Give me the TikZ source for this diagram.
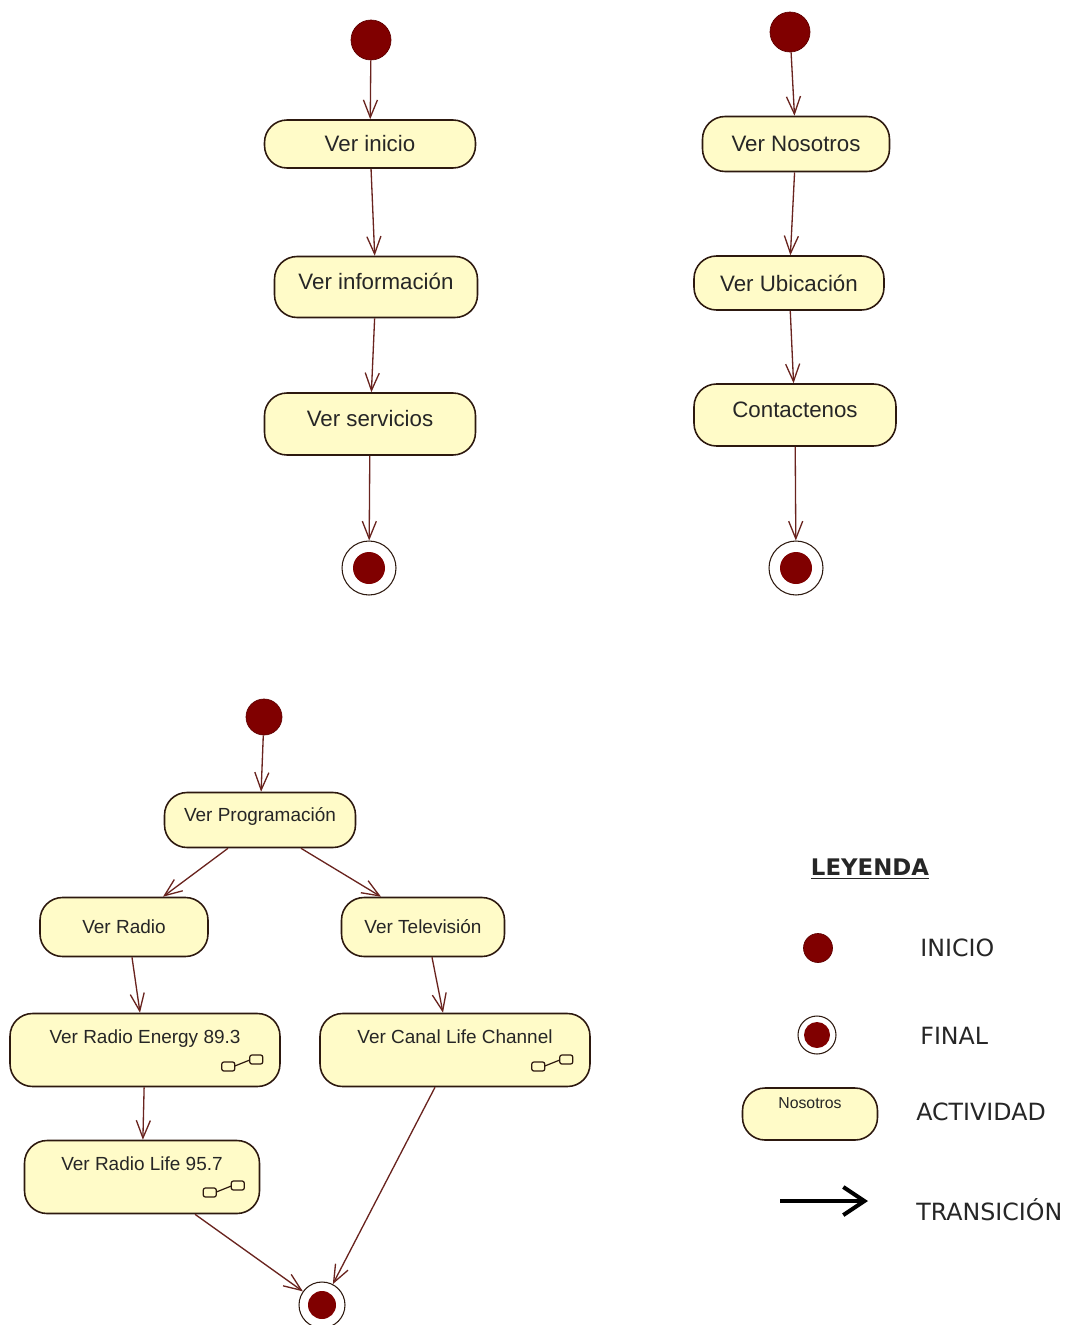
\documentclass[tikz,border=0pt]{standalone}
\usepackage{fontspec}
\setmainfont{Liberation Sans}
\newfontfamily\legfont{DejaVu Sans}
\usetikzlibrary{arrows.meta, calc}

\definecolor{actfill}{RGB}{255,251,200}
\definecolor{actline}{RGB}{45,25,15}
\definecolor{startred}{RGB}{128,0,0}
\definecolor{transline}{RGB}{105,35,30}

\begin{document}
\begin{tikzpicture}[x=0.02cm, y=-0.02cm]
    \tikzstyle{act} = [rectangle, draw=actline, line width=0.9pt, fill=actfill, rounded corners=0.45cm, inner sep=0pt, text=black!85, font=\fontsize{12.7}{15}\selectfont]
    \tikzstyle{tallact} = [act, text height=9.5pt, text depth=7.1pt]
    \tikzstyle{smallact} = [act, font=\fontsize{10.8}{13}\selectfont]
    \tikzstyle{subact} = [smallact, text height=8pt, text depth=15pt]
    \tikzstyle{startdot} = [circle, fill=startred, draw=startred!75!black, inner sep=0pt]
    \tikzstyle{trans} = [draw=transline, line width=0.75pt, -{Straight Barb[length=10pt, width=8pt]}]
    \tikzstyle{legtext} = [anchor=west, inner sep=0pt, text=black!85, font=\legfont\fontsize{13.5}{16}\selectfont]
    \tikzset{finaldot/.style 2 args={circle, draw=actline, line width=0.6pt, fill=white, inner sep=0pt, minimum size=#1,
        path picture={\fill[startred] (path picture bounding box.center) circle (#2);}},
      rake/.pic={
        \draw[actline, fill=actfill, line width=0.7pt, rounded corners=1.2pt] (-21,-1) rectangle (-8,8);
        \draw[actline, fill=actfill, line width=0.7pt, rounded corners=1.2pt] (7,-8) rectangle (20,1);
        \draw[actline, line width=0.7pt] (-8,3) -- (7,-3);
      }}

    \useasboundingbox (0,0) rectangle (1066,1325);

    % first diagram
    \node[startdot, minimum size=0.8cm] (s1) at (371,40) {};
    \node[act, minimum width=4.22cm, minimum height=0.96cm] (inicio) at (370,144) {Ver inicio};
    \node[tallact, minimum width=4.06cm, minimum height=1.22cm] (info) at (376,287) {Ver información};
    \node[tallact, minimum width=4.22cm, minimum height=1.24cm] (serv) at (370,424) {Ver servicios};
    \node[finaldot={1.08cm}{0.32cm}] (f1) at (369,568) {};

    \draw[trans] (s1) -- (inicio);
    \draw[trans] (inicio) -- (info);
    \draw[trans] (info) -- (serv);
    \draw[trans] (serv) -- (f1);

    % second diagram
    \node[startdot, minimum size=0.8cm] (s2) at (790,32) {};
    \node[act, minimum width=3.74cm, minimum height=1.1cm] (nos) at (796,144) {Ver Nosotros};
    \node[act, minimum width=3.8cm, minimum height=1.08cm] (ubic) at (789,283) {Ver Ubicación};
    \node[tallact, minimum width=4.04cm, minimum height=1.24cm] (cont) at (795,415) {Contactenos};
    \node[finaldot={1.08cm}{0.32cm}] (f2) at (796,568) {};

    \draw[trans] (s2) -- (nos);
    \draw[trans] (nos) -- (ubic);
    \draw[trans] (ubic) -- (cont);
    \draw[trans] (cont) -- (f2);

    % third diagram
    \node[startdot, minimum size=0.72cm] (s3) at (264,717) {};
    \node[smallact, minimum width=3.82cm, minimum height=1.1cm, text height=8.5pt, text depth=6.3pt] (prog) at (260,820) {Ver Programación};
    \node[smallact, minimum width=3.36cm, minimum height=1.18cm] (radio) at (124,927) {Ver Radio};
    \node[smallact, minimum width=3.26cm, minimum height=1.18cm] (tele) at (423,927) {Ver Televisión};
    \node[subact, minimum width=5.4cm, minimum height=1.46cm] (energy) at (145,1050) {Ver Radio Energy 89.3};
    \node[subact, minimum width=5.4cm, minimum height=1.46cm] (lifech) at (455,1050) {Ver Canal Life Channel};
    \node[subact, minimum width=4.7cm, minimum height=1.46cm] (life) at (142,1177) {Ver Radio Life 95.7};
    \node[finaldot={0.92cm}{0.28cm}] (f3) at (322,1305) {};

    \pic at ($(energy.east)+(-38,13)$) {rake};
    \pic at ($(lifech.east)+(-38,13)$) {rake};
    \pic at ($(life.east)+(-36,12)$) {rake};

    \draw[trans] (s3) -- (prog);
    \draw[trans] ($(prog.south)+(-32,0)$) -- ($(radio.north)+(39,0)$);
    \draw[trans] ($(prog.south)+(41,0)$) -- ($(tele.north)+(-42,0)$);
    \draw[trans] ($(radio.south)+(8,0)$) -- ($(energy.north)+(-5,0)$);
    \draw[trans] ($(tele.south)+(9,0)$) -- ($(lifech.north)+(-12,0)$);
    \draw[trans] (energy) -- (life);
    \draw[trans] ($(life.south)+(53,0)$) -- (f3);
    \draw[trans] ($(lifech.south)+(-20,0)$) -- (f3);

    % legend
    \node[text=black!85, font=\legfont\bfseries\fontsize{13}{15}\selectfont] (leyenda) at (870,869) {\underline{LEYENDA}};
    \node[startdot, minimum size=0.58cm] (lstart) at (818,948) {};
    \node[legtext] (linicio) at (920,948) {INICIO};
    \node[finaldot={0.76cm}{0.26cm}] (lfinal) at (817,1035) {};
    \node[legtext] (lfin) at (920,1036) {FINAL};
    \node[act, minimum width=2.7cm, minimum height=1.04cm, text height=6pt, text depth=12pt, font=\fontsize{9}{11}\selectfont] (lact) at (810,1114) {Nosotros};
    \node[legtext] (lactiv) at (916,1112) {ACTIVIDAD};
    \coordinate (ltA) at (780,1201);
    \coordinate (ltB) at (868,1201);
    \draw[line width=2.3pt, -{Straight Barb[length=12pt, width=16pt]}] (ltA) -- (ltB);
    \node[legtext] (ltrans) at (916,1210) {TRANSICIÓN};
\end{tikzpicture}
\end{document}
